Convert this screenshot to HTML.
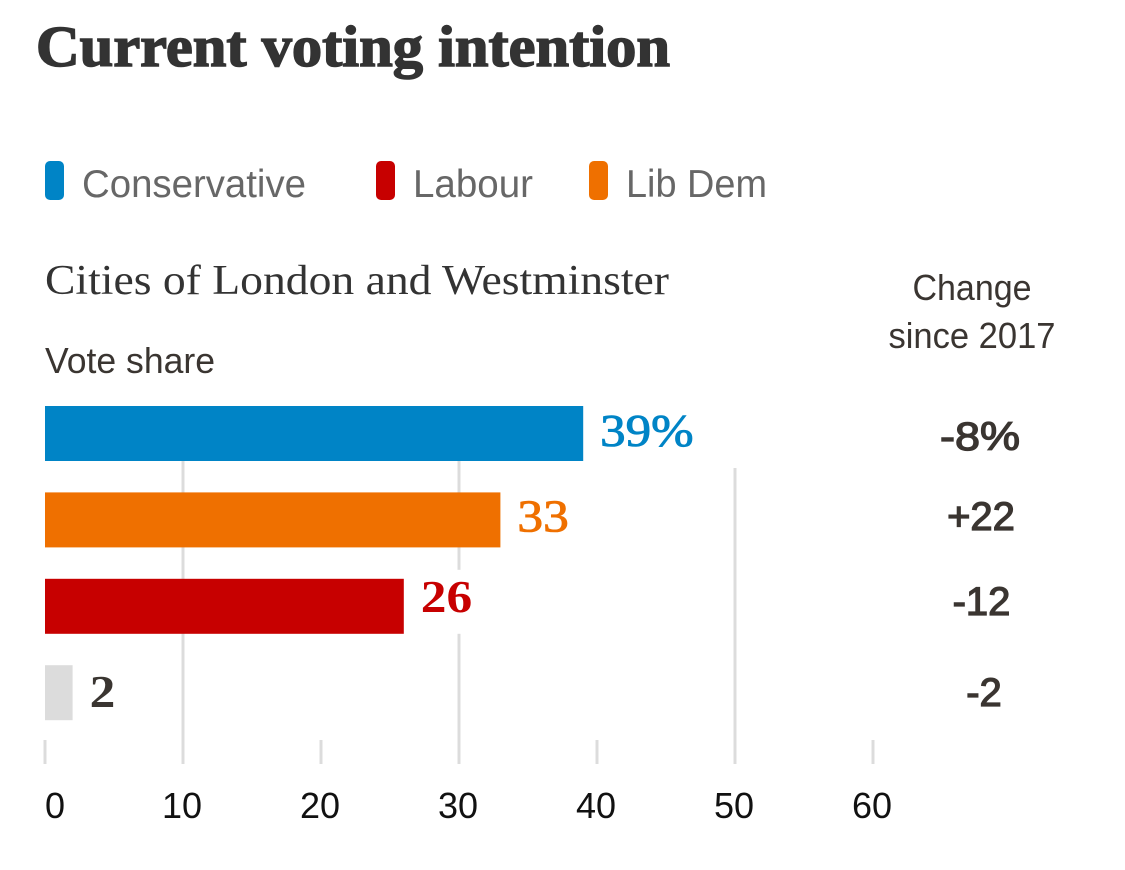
<!DOCTYPE html>
<html lang="en">
<head>
<meta charset="utf-8">
<title>Current voting intention</title>
<style>
html,body{margin:0;padding:0;background:#fff;width:1125px;height:870px;overflow:hidden}
svg{display:block}
.sans{font-family:"Liberation Sans",sans-serif}
.serif{font-family:"Liberation Serif",serif}
</style>
</head>
<body>
<svg id="chart" width="1125" height="870" viewBox="0 0 1125 870" xmlns="http://www.w3.org/2000/svg">
  <rect x="0" y="0" width="1125" height="870" fill="#fff"/>
  <text class="serif" x="36" y="66" font-size="58" font-weight="700" fill="#333" stroke="#333" stroke-width="1.5" textLength="634" lengthAdjust="spacingAndGlyphs">Current voting intention</text>

  <g>
    <rect x="45" y="161" width="19" height="39" rx="5" fill="#0084c6"/>
    <text class="sans" x="82" y="197" font-size="39" fill="#676767" textLength="224" lengthAdjust="spacingAndGlyphs">Conservative</text>
    <rect x="376" y="161" width="19" height="39" rx="5" fill="#c70000"/>
    <text class="sans" x="413" y="197" font-size="39" fill="#676767" textLength="120" lengthAdjust="spacingAndGlyphs">Labour</text>
    <rect x="589" y="161" width="19" height="39" rx="5" fill="#ef7000"/>
    <text class="sans" x="626" y="197" font-size="39" fill="#676767" textLength="141" lengthAdjust="spacingAndGlyphs">Lib Dem</text>
  </g>

  <text class="serif" x="45" y="294" font-size="42" fill="#333" textLength="624" lengthAdjust="spacingAndGlyphs">Cities of London and Westminster</text>
  <text class="sans" x="45" y="373" font-size="36" fill="#3a3531" textLength="170" lengthAdjust="spacingAndGlyphs">Vote share</text>
  <text class="sans" x="972" y="300" font-size="36" fill="#3a3531" text-anchor="middle" textLength="119" lengthAdjust="spacingAndGlyphs">Change</text>
  <text class="sans" x="972" y="348" font-size="36" fill="#3a3531" text-anchor="middle" textLength="167" lengthAdjust="spacingAndGlyphs">since 2017</text>

  <g id="grid"></g>
  <g id="ticks"></g>
  <g id="bars"></g>
  <g id="labels"></g>
  <g id="changes"></g>
</svg>
<script>
const parties = ['conservative', 'lib-dem', 'labour', 'other'];
const voteShares = [39, 33, 26, 2];
const valueLabels = ['39%', '33', '26', '2'];
const changeLabels = ['-8%', '+22', '-12', '-2'];
const partyColors = ['#0084c6', '#ef7000', '#c70000', '#dcdcdc'];
const labelColors = ['#0084c6', '#ef7000', '#c70000', '#3a3531'];
const axisTicks = [0, 10, 20, 30, 40, 50, 60];
const longTicks = [10, 30, 50];

const NS = 'http://www.w3.org/2000/svg';
const xScale = function (v) { return 45 + v * 13.8; };
const barTop = function (i) { return 406 + i * 86.4; };
const BAR_H = 55;
const gridEl = document.getElementById('grid');
const ticksEl = document.getElementById('ticks');
const barsEl = document.getElementById('bars');
const labelsEl = document.getElementById('labels');
const changesEl = document.getElementById('changes');

axisTicks.forEach(function (t) {
  const line = document.createElementNS(NS, 'rect');
  const isLong = longTicks.indexOf(t) >= 0;
  const top = t === 50 ? 468 : (isLong ? 440 : 740);
  line.setAttribute('x', xScale(t) - 1.5);
  line.setAttribute('y', top);
  line.setAttribute('width', 3);
  line.setAttribute('height', 764 - top);
  line.setAttribute('fill', '#dcdcdc');
  
  
  gridEl.appendChild(line);

  const label = document.createElementNS(NS, 'text');
  label.setAttribute('x', t === 0 ? xScale(t) : xScale(t) - 1);
  label.setAttribute('y', 818);
  label.setAttribute('font-size', 36);
  label.setAttribute('fill', '#111');
  label.setAttribute('class', 'sans');
  label.setAttribute('text-anchor', t === 0 ? 'start' : 'middle');
  
  
  label.textContent = t;
  ticksEl.appendChild(label);
});

voteShares.forEach(function (v, i) {
  const y = barTop(i);
  const bar = document.createElementNS(NS, 'rect');
  bar.setAttribute('x', xScale(0));
  bar.setAttribute('y', y);
  bar.setAttribute('width', xScale(v) - xScale(0));
  bar.setAttribute('height', BAR_H);
  bar.setAttribute('fill', partyColors[i]);
  
  
  barsEl.appendChild(bar);

  // Labels sit on a white plate, which is what interrupts the gridlines behind them.
  const lx = xScale(v) + 17;
  const ly = i === 0 ? y + 40 : (i === 1 ? y + 39 : (i === 2 ? y + 33 : y + 42));
  const plate = document.createElementNS(NS, 'rect');
  plate.setAttribute('x', lx - 4);
  plate.setAttribute('y', ly - 42);
  plate.setAttribute('width', 62);
  plate.setAttribute('height', 64);
  plate.setAttribute('fill', '#fff');
  
  
  if (i > 0) labelsEl.appendChild(plate);

  const text = valueLabels[i];
  const digitCount = text.replace('%', '').length;
  const label = document.createElementNS(NS, 'text');
  label.setAttribute('x', lx);
  label.setAttribute('y', ly);
  label.setAttribute('font-size', 45);
  label.setAttribute('font-weight', i < 2 ? 400 : 700);
  label.setAttribute('fill', labelColors[i]);
  label.setAttribute('stroke', labelColors[i]);
  label.setAttribute('stroke-width', i < 2 ? 0.9 : 0);
  label.setAttribute('class', 'serif');
  label.setAttribute('textLength', digitCount * 25.7 + (text.indexOf('%') >= 0 ? 42 : 0));
  label.setAttribute('lengthAdjust', 'spacingAndGlyphs');
  
  
  label.textContent = text;
  labelsEl.appendChild(label);

  const change = document.createElementNS(NS, 'text');
  change.setAttribute('x', i === 0 ? 980 : (i === 1 ? 981 : (i === 2 ? 981.5 : 984)));
  change.setAttribute('y', [450, 530, 615, 706][i]);
  change.setAttribute('font-size', 40);
  change.setAttribute('font-weight', 400);
  change.setAttribute('fill', '#3a3531');
  change.setAttribute('stroke', '#3a3531');
  change.setAttribute('stroke-width', 1.3);
  change.setAttribute('class', 'sans');
  change.setAttribute('text-anchor', 'middle');
  if (changeLabels[i].indexOf('%') >= 0) change.setAttribute('textLength', 80);
  if (changeLabels[i].indexOf('%') >= 0) change.setAttribute('lengthAdjust', 'spacingAndGlyphs');
  
  
  change.textContent = changeLabels[i];
  changesEl.appendChild(change);
});
</script>
</body>
</html>
